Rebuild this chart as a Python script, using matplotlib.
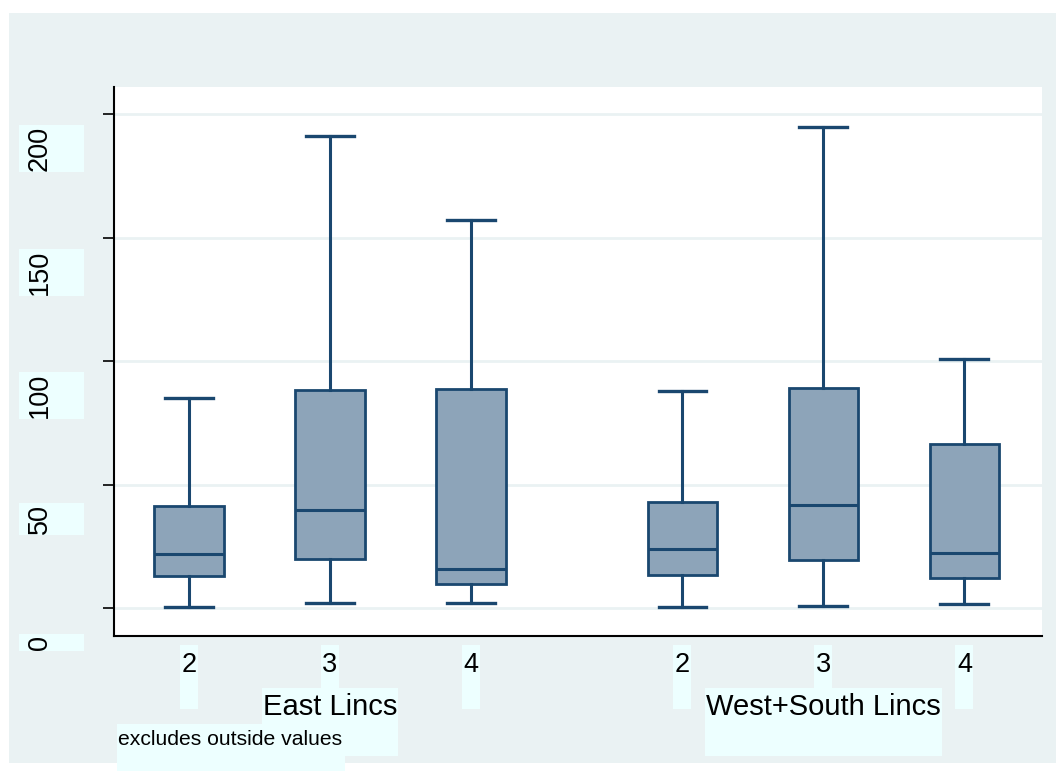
import matplotlib
matplotlib.use("Agg")
import matplotlib.pyplot as plt
from matplotlib.patches import Rectangle

# box plot summaries
groups = ["East Lincs", "West+South Lincs"]
levels = ["2", "3", "4"]
whislo = [0.4, 2.0, 2.0, 0.4, 0.8, 1.5]
q1 = [12.8, 19.7, 9.9, 13.4, 19.5, 12.3]
med = [21.8, 39.7, 15.9, 23.8, 41.6, 22.2]
q3 = [41.5, 88.4, 88.8, 42.9, 89.1, 66.6]
whishi = [85.0, 191.4, 157.3, 87.9, 194.9, 100.9]
yticks = [0, 50, 100, 150, 200]
note = "excludes outside values"

positions = [1, 2, 3, 4.5, 5.5, 6.5]

navy = "#1A476F"
fill = "#8DA4B9"
bg = "#EAF2F3"
azure = "#EDFFFF"
font = "Liberation Sans"

W, H = 1056, 771
fig = plt.figure(figsize=(W / 100, H / 100), dpi=100)
fig.patch.set_facecolor("white")


def fx(px):
    return px / W


def fy(py):
    return 1 - py / H


def box(x0, y0, x1, y1):
    # rectangle given in pixels from the top left
    fig.add_artist(Rectangle((fx(x0), fy(y1)), (x1 - x0) / W, (y1 - y0) / H,
                             facecolor=azure, edgecolor="none", zorder=1))


fig.add_artist(Rectangle((fx(9), fy(763)), (W - 9) / W, (763 - 13) / H,
                         facecolor=bg, edgecolor="none", zorder=0))

ax = fig.add_axes([fx(114), fy(636), (1042 - 114) / W, (636 - 87) / H])
ax.set_facecolor("white")

stats = []
for i in range(len(positions)):
    stats.append(dict(whislo=whislo[i], q1=q1[i], med=med[i], q3=q3[i],
                      whishi=whishi[i], fliers=[]))

ax.bxp(stats, positions=positions, widths=0.49, capwidths=0.34,
       patch_artist=True, showfliers=False, manage_ticks=False,
       boxprops=dict(facecolor=fill, edgecolor=navy, linewidth=2),
       medianprops=dict(color=navy, linewidth=2.2, solid_capstyle="butt"),
       whiskerprops=dict(color=navy, linewidth=2.2),
       capprops=dict(color=navy, linewidth=2.4))

ax.set_xlim(0.468, 7.05)
ax.set_ylim(-11.34, 211.06)
ax.set_yticks(yticks)
ax.set_xticks([])
ax.tick_params(axis="y", length=8, width=1.2, labelleft=False)
ax.yaxis.grid(True, color=bg, linewidth=2)
ax.set_axisbelow(True)
for s in ["top", "right"]:
    ax.spines[s].set_visible(False)
for s in ["left", "bottom"]:
    ax.spines[s].set_linewidth(1.5)

# y tick labels, drawn the way the original shows them
for v in yticks:
    gy = H - ax.transData.transform((1, v))[1]
    cy = gy + 34.5
    h = len(str(v)) * 15 + 2
    box(19, cy - h / 2, 84, cy + h / 2)
    fig.text(fx(39.5), fy(cy), str(v), rotation=90, ha="center", va="center",
             fontsize=19.5, family=font, zorder=2)

# x tick labels
for i, p in enumerate(positions):
    cx = ax.transData.transform((p, 0))[0]
    box(cx - 9, 645, cx + 9, 709)
    fig.text(fx(cx), fy(672), levels[i % 3], ha="center", va="baseline",
             fontsize=19.5, family=font, zorder=2)

renderer = fig.canvas.get_renderer()

# group labels
for g, name in enumerate(groups):
    cx = ax.transData.transform((sum(positions[g * 3:g * 3 + 3]) / 3, 0))[0]
    t = fig.text(fx(cx), fy(715), name, ha="center", va="baseline",
                 fontsize=21, family=font, zorder=2)
    ext = t.get_window_extent(renderer)
    box(ext.x0 - 1, 688, ext.x1 + 1, 756)

t = fig.text(fx(118), fy(745), note, ha="left", va="baseline",
             fontsize=15.2, family=font, zorder=2)
ext = t.get_window_extent(renderer)
box(117, 724, ext.x1 + 3, 771)

fig.savefig("out.png", dpi=100)
